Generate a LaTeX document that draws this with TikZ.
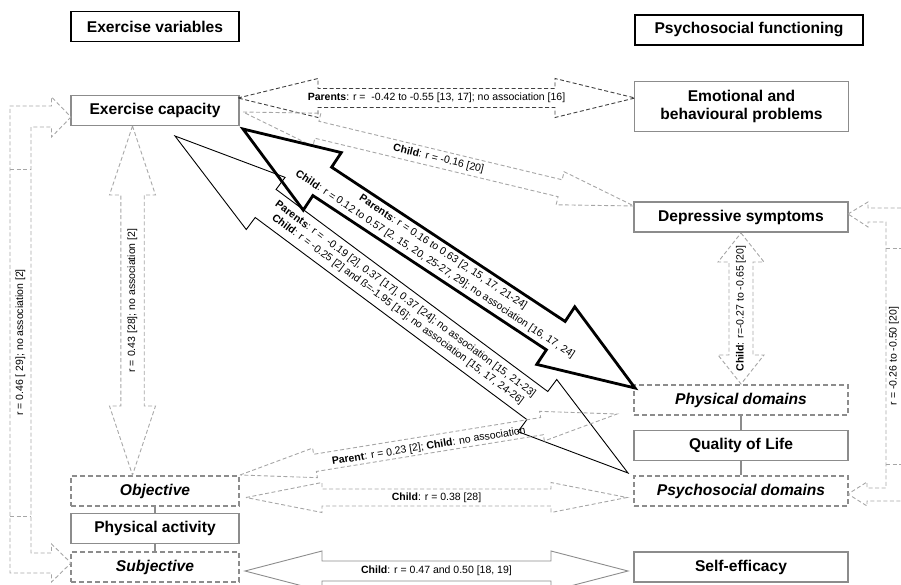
\documentclass[tikz,border=0pt]{standalone}
\usepackage{fontspec}
\setmainfont{Liberation Sans}
\usetikzlibrary{calc}
\definecolor{boxgray}{HTML}{8C8C8C}
\definecolor{lightdash}{HTML}{A6A6A6}
\definecolor{darkdash}{HTML}{404040}
\newcommand\blkarrow[6]{%
  \path ($(#2)!#6!(#3)$) coordinate (bahA) ($(#3)!#6!(#2)$) coordinate (bahB);
  \draw[#1] (#2) -- ($(bahA)!#5!90:(#3)$) -- ($(bahA)!#4!90:(#3)$)
    -- ($(bahB)!#4!-90:(#2)$) -- ($(bahB)!#5!-90:(#2)$) -- (#3)
    -- ($(bahB)!#5!90:(#2)$) -- ($(bahB)!#4!90:(#2)$)
    -- ($(bahA)!#4!-90:(#3)$) -- ($(bahA)!#5!-90:(#3)$) -- cycle;
}
\tikzset{
  nodefont/.style={font=\fontsize{15.6}{18.5}\selectfont\bfseries},
  hdr/.style={draw=black, line width=1.3pt, nodefont, inner sep=0pt, minimum height=30pt},
  cbox/.style={draw=boxgray, line width=1.3pt, nodefont, inner sep=0pt, align=center},
  lbox/.style={cbox, minimum width=168pt, minimum height=30pt},
  rbox/.style={cbox, minimum width=214pt, minimum height=30pt},
  dbox/.style={dash pattern=on 5pt off 3pt, font=\fontsize{15.6}{18.5}\selectfont\bfseries\itshape},
  conn/.style={draw=boxgray, line width=2pt},
  lightdsh/.style={draw=lightdash, line width=0.9pt, dash pattern=on 4pt off 2.5pt},
  darkdsh/.style={draw=darkdash, line width=0.9pt, dash pattern=on 4pt off 2.5pt},
  lbl/.style={font=\fontsize{10.5}{12.8}\selectfont, inner sep=0pt, align=center},
  lblwide/.style={font=\fontsize{10.5}{14.5}\selectfont, inner sep=0pt, align=center}
}
\begin{document}
\begin{tikzpicture}[x=1pt,y=-1pt]
\useasboundingbox (0,0) rectangle (901,585);
% headers
\node[hdr, minimum width=168pt] (hdrL) at (155,26.5) {Exercise variables};
\node[hdr, minimum width=228pt] (hdrR) at (749,30) {Psychosocial functioning};
% left boxes
\node[lbox] (cap) at (155,110.5) {Exercise capacity};
\node[lbox, dbox] (obj) at (155,491) {Objective};
\node[lbox] (pa) at (155,528.5) {Physical activity};
\node[lbox, dbox] (subj) at (155,567) {Subjective};
% right boxes
\node[rbox, minimum height=50pt] (emo) at (741.5,106.5) {Emotional and\\behavioural problems};
\node[rbox] (dep) at (741,217) {Depressive symptoms};
\node[rbox, dbox] (phys) at (741,400) {Physical domains};
\node[rbox] (qol) at (741,445.5) {Quality of Life};
\node[rbox, dbox] (psy) at (741,491) {Psychosocial domains};
\node[rbox] (self) at (741,567) {Self-efficacy};
% stack connectors
\draw[conn] (obj) -- (pa);
\draw[conn] (pa) -- (subj);
\draw[conn] (phys) -- (qol);
\draw[conn] (qol) -- (psy);
% arrow end points
\coordinate (a1l) at (238,98);    \coordinate (a1r) at (635,98);
\coordinate (a2l) at (243,112);   \coordinate (a2r) at (634,206);
\coordinate (a3l) at (243,129);   \coordinate (a3r) at (635,388);
\coordinate (a4l) at (175,136);   \coordinate (a4r) at (628,473);
\coordinate (a5t) at (132.5,126); \coordinate (a5b) at (132.5,475);
\coordinate (a6t) at (741,233);   \coordinate (a6b) at (741,384);
\coordinate (a7l) at (240,475);   \coordinate (a7r) at (617,414);
\coordinate (a8l) at (246,497.5); \coordinate (a8r) at (627,497.5);
\coordinate (a9l) at (245,571);   \coordinate (a9r) at (628,571);
% block arrows
\blkarrow{darkdsh}{a1l}{a1r}{9.5pt}{19.5pt}{80pt}
\path (a1l) -- node[lbl] {\textbf{Parents}: r =\ \ -0.42 to -0.55 [13, 17]; no association [16]} (a1r);
\blkarrow{lightdsh}{a2l}{a2r}{8.7pt}{17pt}{76pt}
\path (a2l) -- node[lbl, sloped] {\textbf{Child}: r = -0.16 [20]} (a2r);
\blkarrow{draw=black, line width=0.9pt}{a4l}{a4r}{17.5pt}{32.5pt}{113pt}
\path (a4l) -- node[lbl, sloped] {\textbf{Parents}: r =\ \ -0.19 [2], 0.37 [17], 0.37 [24]; no association [15, 21-23]\\\textbf{Child}: r = -0.25 [2] and ß=-1.95 [16]; no association [15, 17, 24-26]} (a4r);
\blkarrow{draw=black, line width=2.8pt}{a3l}{a3r}{17pt}{34.5pt}{95pt}
\path (a3l) -- node[lblwide, sloped] {\textbf{Parents}: r = 0.16 to 0.63 [2, 15, 17, 21-24]\\\textbf{Child}: r = 0.12 to 0.57 [2, 15, 20, 25-27, 29]; no association [16, 17, 24]} (a3r);
\blkarrow{lightdsh}{a5t}{a5b}{11.7pt}{23pt}{69pt}
\path (a5t) -- node[lbl, rotate=90] {r = 0.43 [28]; no association [2]} (a5b);
\blkarrow{lightdsh}{a6t}{a6b}{12pt}{23pt}{29pt}
\path (a6t) -- node[lbl, rotate=90] {\textbf{Child}: r=-0.27 to -0.65 [20]} (a6b);
\blkarrow{lightdsh}{a7l}{a7r}{8.7pt}{15pt}{76pt}
\path (a7l) -- node[lbl, sloped, yshift=-2pt] {\textbf{Parent}: r = 0.23 [2]; \textbf{Child}: no association} (a7r);
\blkarrow{lightdsh}{a8l}{a8r}{8.5pt}{15pt}{76pt}
\path (a8l) -- node[lbl] {\textbf{Child}: r = 0.38 [28]} (a8r);
\blkarrow{draw=boxgray, line width=0.9pt}{a9l}{a9r}{10pt}{20pt}{77pt}
\path (a9l) -- node[lbl] {\textbf{Child}: r = 0.47 and 0.50 [18, 19]} (a9r);
% left elbow arrow
\draw[lightdsh] (71,117) -- (51.5,137) -- (51.5,127) -- (31,127) -- (31,553) -- (51.5,553)
  -- (51.5,544) -- (71,563) -- (51.5,582) -- (51.5,573) -- (10,573) -- (10,106)
  -- (51.5,106) -- (51.5,97) -- cycle;
\draw[lightdsh] (10,169) -- (31,169) (10,516) -- (31,516);
\node[lbl, rotate=90] (lel) at (20.5,342.5) {r = 0.46 [ 29]; no association [2]};
% right elbow arrow
\draw[lightdsh] (848,214) -- (868,202) -- (868,208) -- (905,208) -- (905,501) -- (867,501)
  -- (867,506) -- (848,494) -- (867,482) -- (867,488) -- (886,488) -- (886,222)
  -- (868,222) -- (868,227) -- cycle;
\draw[lightdsh] (886,248) -- (905,248) (886,464) -- (905,464);
\node[lbl, rotate=90] (rel) at (894,356) {r = -0.26 to -0.50 [20]};
\end{tikzpicture}
\end{document}
